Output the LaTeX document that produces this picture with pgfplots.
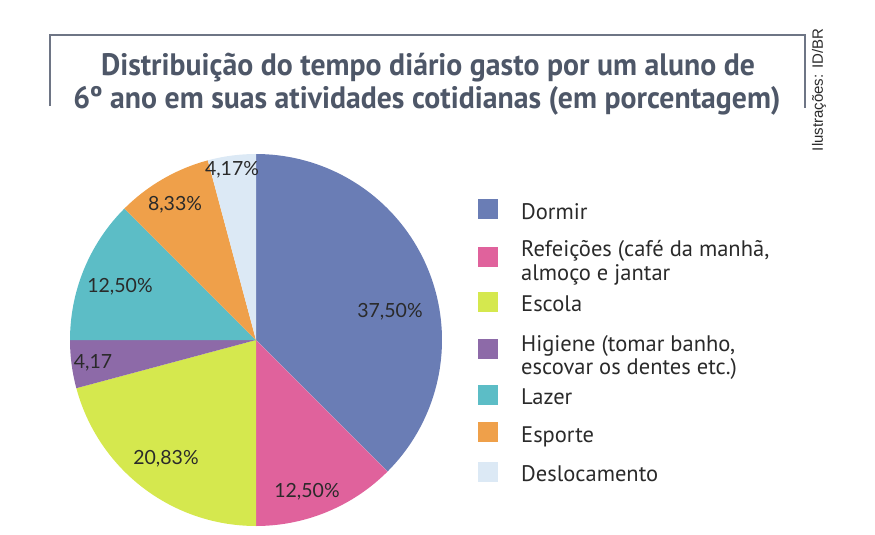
\documentclass[border=0pt]{standalone}
\usepackage{pgfplots}
\pgfplotsset{compat=1.18}
\usepackage{fontspec}
\setmainfont{PT Sans}
\newfontfamily\titlefont[FakeStretch=0.96]{PT Sans}
\newfontfamily\labelfont{Lato}
\newfontfamily\creditfont{Liberation Sans}
\definecolor{cDormir}{HTML}{6A7DB5}
\definecolor{cRef}{HTML}{E0629C}
\definecolor{cEsc}{HTML}{D5E84E}
\definecolor{cHig}{HTML}{8D6AA8}
\definecolor{cLaz}{HTML}{5CBDC6}
\definecolor{cEsp}{HTML}{EFA04A}
\definecolor{cDes}{HTML}{DCE9F5}
\definecolor{titlecol}{HTML}{4E5768}
\definecolor{framecol}{HTML}{6E7585}
\definecolor{txt}{HTML}{2A2A2A}
% Slice shares (percent), clockwise from 12 o'clock:
% Dormir 37.50, Refeicoes 12.50, Escola 20.83, Higiene 4.17, Lazer 12.50, Esporte 8.33, Deslocamento 4.17
\newcommand\cx{256}
\newcommand\cy{340}
\newcommand\rr{186}
\begin{document}
\begin{tikzpicture}
\begin{axis}[
  width=875pt, height=535pt, scale only axis,
  xmin=0, xmax=875, ymin=0, ymax=535, y dir=reverse,
  hide axis, clip=false,
]
\path (rel axis cs:0,0) rectangle (rel axis cs:1,1);
% cumulative: 0, 37.50, 50.00, 70.83, 75.00, 87.50, 95.83, 100
\addplot[fill=cDormir, draw=none, domain=90-3.6*0:90-3.6*37.50, samples=80]
  ({\cx+\rr*cos(x)},{\cy-\rr*sin(x)}) -- (\cx,\cy) -- cycle;
\addplot[fill=cRef, draw=none, domain=90-3.6*37.50:90-3.6*50.00, samples=40]
  ({\cx+\rr*cos(x)},{\cy-\rr*sin(x)}) -- (\cx,\cy) -- cycle;
\addplot[fill=cEsc, draw=none, domain=90-3.6*50.00:90-3.6*70.83, samples=60]
  ({\cx+\rr*cos(x)},{\cy-\rr*sin(x)}) -- (\cx,\cy) -- cycle;
\addplot[fill=cHig, draw=none, domain=90-3.6*70.83:90-3.6*75.00, samples=20]
  ({\cx+\rr*cos(x)},{\cy-\rr*sin(x)}) -- (\cx,\cy) -- cycle;
\addplot[fill=cLaz, draw=none, domain=90-3.6*75.00:90-3.6*87.50, samples=40]
  ({\cx+\rr*cos(x)},{\cy-\rr*sin(x)}) -- (\cx,\cy) -- cycle;
\addplot[fill=cEsp, draw=none, domain=90-3.6*87.50:90-3.6*95.83, samples=30]
  ({\cx+\rr*cos(x)},{\cy-\rr*sin(x)}) -- (\cx,\cy) -- cycle;
\addplot[fill=cDes, draw=none, domain=90-3.6*95.83:90-3.6*100, samples=20]
  ({\cx+\rr*cos(x)},{\cy-\rr*sin(x)}) -- (\cx,\cy) -- cycle;
% legend keys
\fill[cDormir] (axis cs:478,199) rectangle (axis cs:498,219);
\fill[cRef]    (axis cs:478,247) rectangle (axis cs:498,267);
\fill[cEsc]    (axis cs:478,292) rectangle (axis cs:498,312);
\fill[cHig]    (axis cs:478,339) rectangle (axis cs:498,359);
\fill[cLaz]    (axis cs:478,385) rectangle (axis cs:498,405);
\fill[cEsp]    (axis cs:478,422) rectangle (axis cs:498,442);
\fill[cDes]    (axis cs:478,462) rectangle (axis cs:498,482);
\begin{scope}[every node/.style={font=\fontsize{22.5}{24}\selectfont, text=txt, inner sep=0pt, anchor=base west}]
\node at (axis cs:521,219) {Dormir};
\node at (axis cs:521,256) {Refeições (café da manhã,};
\node at (axis cs:521,280) {almoço e jantar};
\node at (axis cs:521,311) {Escola};
\node at (axis cs:521,351) {Higiene (tomar banho,};
\node at (axis cs:521,374) {escovar os dentes etc.)};
\node at (axis cs:521,404) {Lazer};
\node at (axis cs:521,442) {Esporte};
\node at (axis cs:521,481) {Deslocamento};
\end{scope}
% slice labels
\begin{scope}[every node/.style={font=\labelfont\fontsize{19.5}{22}\selectfont, text=txt, inner sep=0pt}]
\node at (axis cs:390,312) {37,50\%};
\node at (axis cs:307,492) {12,50\%};
\node at (axis cs:166,459) {20,83\%};
\node at (axis cs:93,363) {4,17};
\node at (axis cs:120,287) {12,50\%};
\node at (axis cs:175,205) {8,33\%};
\node at (axis cs:232,170) {4,17\%};
\end{scope}
% title frame
\draw[framecol, line width=1.3pt] (axis cs:50,106) -- (axis cs:50,35) -- (axis cs:805,35) -- (axis cs:805,108);
\node[font=\titlefont\bfseries\fontsize{31}{33}\selectfont, text=titlecol, anchor=base, inner sep=0pt] at (axis cs:428,75) {Distribuição do tempo diário gasto por um aluno de};
\node[font=\titlefont\bfseries\fontsize{31}{33}\selectfont, text=titlecol, anchor=base, inner sep=0pt] at (axis cs:427,108) {6º ano em suas atividades cotidianas (em porcentagem)};
\node[font=\creditfont\fontsize{15}{17}\selectfont, text=txt, rotate=90, anchor=center, inner sep=0pt] at (axis cs:819,90) {Ilustrações: ID/BR};
\end{axis}
\end{tikzpicture}
\end{document}
